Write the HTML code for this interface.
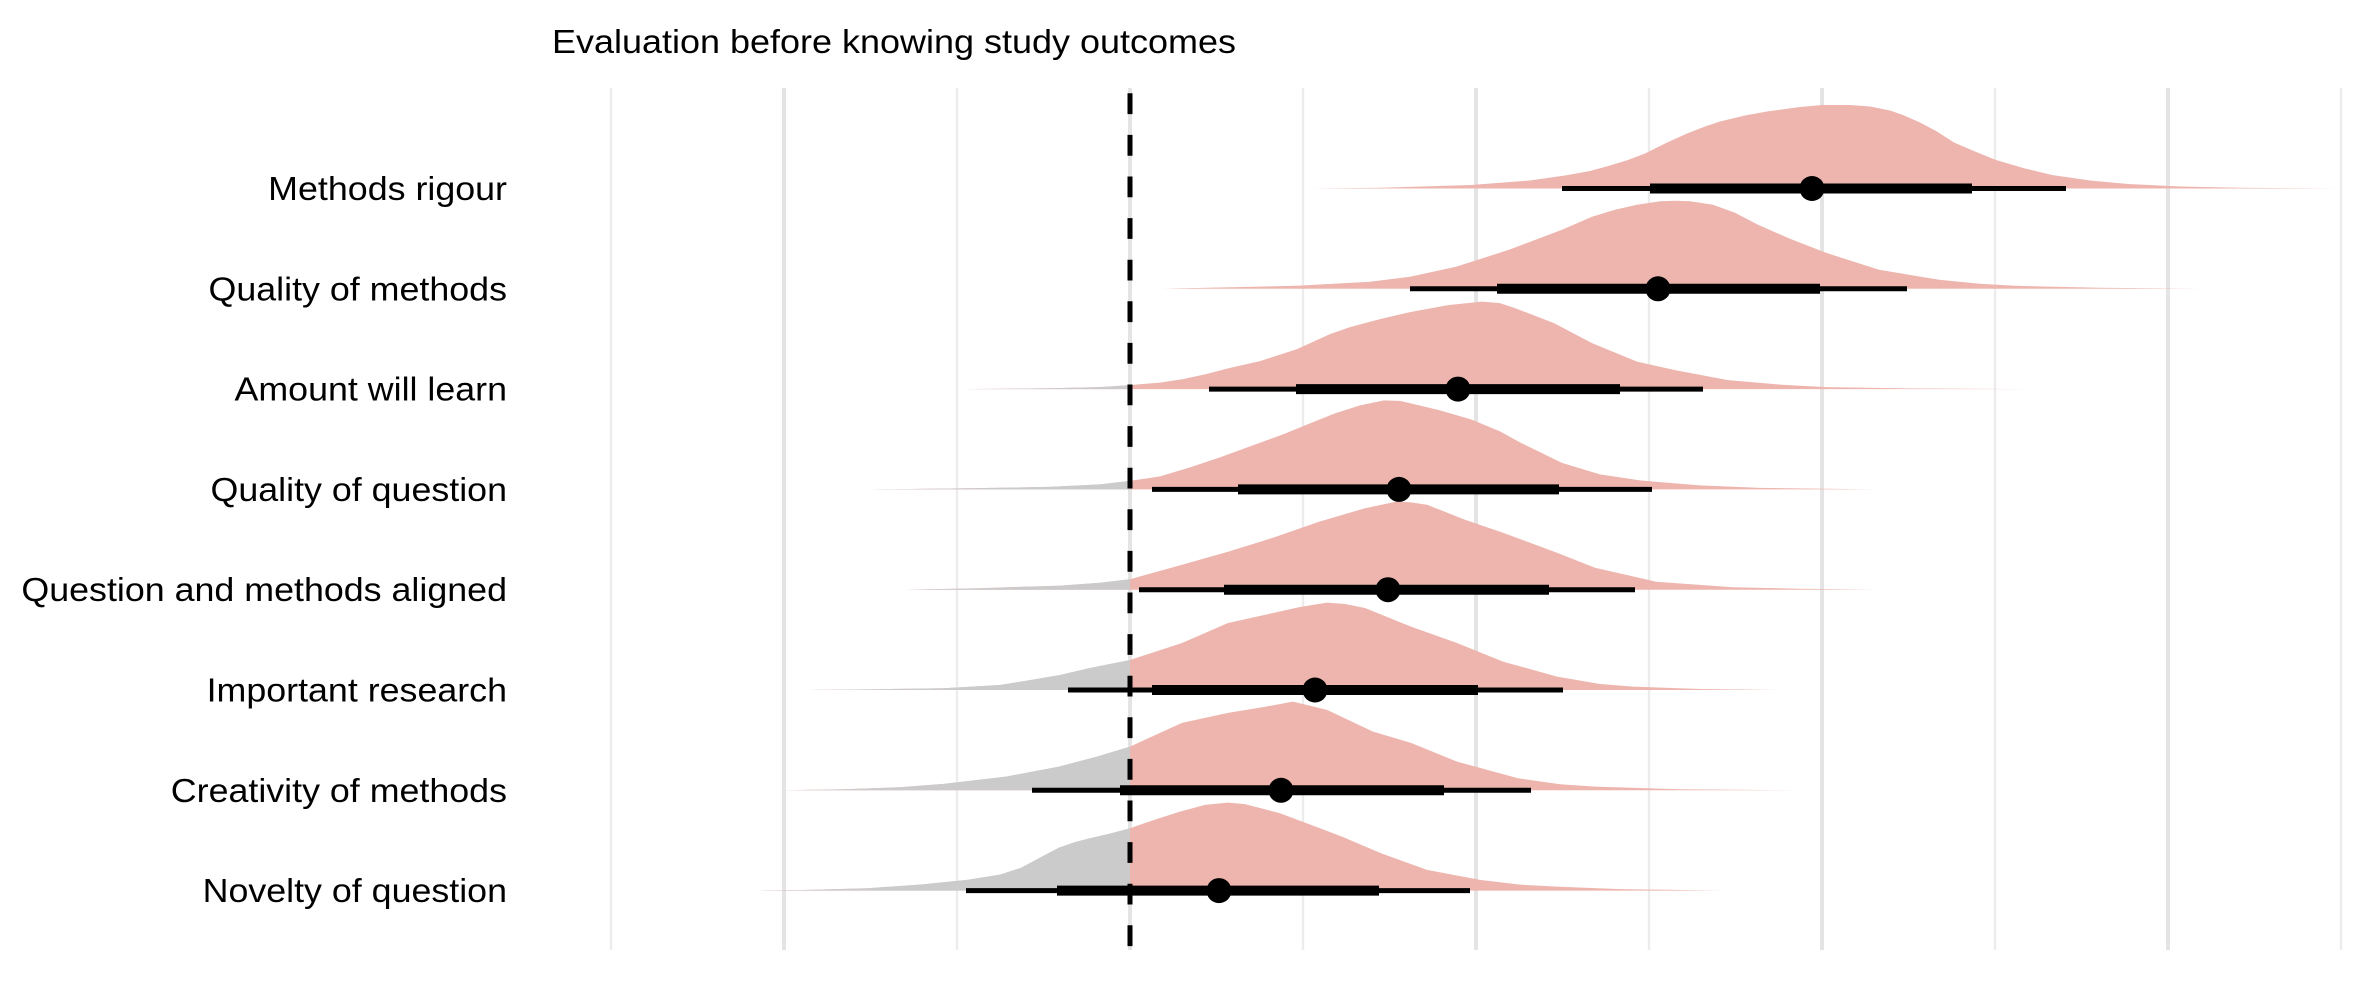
<!DOCTYPE html>
<html>
<head>
<meta charset="utf-8">
<style>
  html, body { margin: 0; padding: 0; background: #ffffff; }
  svg { display: block; }
  text { font-family: "Liberation Sans", Arial, Helvetica, sans-serif; fill: #000; }
</style>
</head>
<body>
<svg xmlns="http://www.w3.org/2000/svg" width="2368" height="1004" viewBox="0 0 2368 1004">
  <defs>
    <clipPath id="leftclip" clipPathUnits="userSpaceOnUse">
      <rect x="0" y="0" width="1130" height="1004"/>
    </clipPath>
  </defs>
  <rect x="0" y="0" width="2368" height="1004" fill="#ffffff"/>

  <!-- grid lines -->
  <g stroke="#ececec" stroke-width="2.3">
    <line x1="611" y1="88" x2="611" y2="950"/>
    <line x1="957" y1="88" x2="957" y2="950"/>
    <line x1="1303" y1="88" x2="1303" y2="950"/>
    <line x1="1649" y1="88" x2="1649" y2="950"/>
    <line x1="1995" y1="88" x2="1995" y2="950"/>
    <line x1="2341" y1="88" x2="2341" y2="950"/>
  </g>
  <g stroke="#e4e4e4" stroke-width="4">
    <line x1="784" y1="88" x2="784" y2="950"/>
    <line x1="1130" y1="88" x2="1130" y2="950"/>
    <line x1="1476" y1="88" x2="1476" y2="950"/>
    <line x1="1822" y1="88" x2="1822" y2="950"/>
    <line x1="2168" y1="88" x2="2168" y2="950"/>
  </g>

  <!-- densities: pink -->
  <g fill="#edb5ae">
    <g transform="translate(0,188.5) scale(1,-1)"><path d="M1312,0 L1380,0.7 L1471,3.5 L1530,8 L1565,13 L1590,17.5 L1610,23 L1628,28.5 L1645,35 L1665,45 L1687,55 L1705,62 L1720,67 L1745,73 L1767,77 L1800,81.5 L1822,83.5 L1850,83.5 L1870,82 L1890,78 L1903,73.5 L1920,66 L1937,57 L1954,46 L1975,37 L1996,28.5 L2025,20 L2052,13.5 L2090,8 L2128,4.5 L2180,2 L2241,0.8 L2339,0 Z"/></g>
    <g transform="translate(0,288.8) scale(1,-1)"><path d="M1163,0 L1184,0.5 L1297,3 L1370,7 L1410,12 L1456,22 L1509,39 L1562,59 L1592,72 L1615,79 L1637,84 L1660,87.5 L1675,88 L1690,87.5 L1713,84 L1735,76 L1758,64 L1790,50 L1826,36 L1879,19 L1939,9 L1980,5 L2015,3 L2100,1 L2200,0 Z"/></g>
    <g transform="translate(0,389.1) scale(1,-1)"><path d="M964,0 L1050,0.8 L1100,2 L1130,4 L1160,6.5 L1183,10 L1206,15 L1229,21 L1260,28 L1297,40 L1330,55 L1350,62 L1380,70 L1410,77 L1448,84 L1482,87.5 L1500,86 L1515,81 L1554,66 L1592,46 L1637,27.5 L1675,19 L1728,9 L1780,4.5 L1826,2 L1900,0.8 L2030,0 Z"/></g>
    <g transform="translate(0,489.4) scale(1,-1)"><path d="M870,0 L960,1 L1050,2.5 L1100,5 L1130,8.5 L1160,13 L1190,22 L1220,32 L1250,43 L1283,55 L1310,66 L1335,76 L1360,84 L1384,89 L1400,88.5 L1415,85 L1440,79 L1471,70 L1500,58 L1520,47 L1562,26.5 L1600,15 L1640,9 L1700,4 L1760,1.5 L1875,0 Z"/></g>
    <g transform="translate(0,589.7) scale(1,-1)"><path d="M906,0 L980,1.5 L1059,4 L1100,7 L1130,10.5 L1182,25 L1228,38 L1273,52 L1319,68 L1365,81.5 L1396,88 L1410,87.5 L1427,85 L1465,70 L1503,57 L1557,37 L1595,22 L1656,8 L1733,2.5 L1800,1 L1875,0 Z"/></g>
    <g transform="translate(0,690) scale(1,-1)"><path d="M808,0 L880,0.8 L944,1.8 L1000,5 L1021,8.4 L1060,15 L1090,22 L1130,30 L1182,47 L1228,67 L1273,77 L1300,83 L1327,87.4 L1345,86 L1365,82 L1411,63.4 L1457,47 L1503,28.4 L1557,13.4 L1600,6 L1633,3.4 L1700,1 L1778,0 Z"/></g>
    <g transform="translate(0,790.3) scale(1,-1)"><path d="M784,0 L845,1.1 L900,3 L944,6.4 L1006,13.7 L1059,23.7 L1097,33.7 L1130,43.7 L1182,67.4 L1228,77.4 L1266,83.7 L1293,88.7 L1327,80.4 L1373,58.7 L1411,47.4 L1457,28.7 L1518,12 L1560,6 L1595,3.7 L1680,1 L1802,0 Z"/></g>
    <g transform="translate(0,890.6) scale(1,-1)"><path d="M758,0 L800,0.5 L868,2.4 L920,6 L967,10.7 L1000,16 L1021,22.7 L1040,33 L1059,43 L1075,48.5 L1090,52.4 L1110,57 L1130,62.4 L1155,71 L1180,79 L1205,85.7 L1228,88 L1245,86.5 L1280,77.4 L1320,62.4 L1342,54 L1381,37.4 L1427,20.7 L1480,10.7 L1520,6 L1557,4 L1620,1.5 L1721,0 Z"/></g>
  </g>

  <!-- densities: grey part left of zero -->
  <g fill="#cbcbcb" clip-path="url(#leftclip)">
    <g transform="translate(0,389.1) scale(1,-1)"><path d="M964,0 L1050,0.8 L1100,2 L1130,4 L1183,9.5 L1183,0 Z"/></g>
    <g transform="translate(0,489.4) scale(1,-1)"><path d="M870,0 L960,1 L1050,2.5 L1100,5 L1130,8.5 L1160,13 L1160,0 Z"/></g>
    <g transform="translate(0,589.7) scale(1,-1)"><path d="M906,0 L980,1.5 L1059,4 L1100,7 L1130,10.5 L1182,25 L1182,0 Z"/></g>
    <g transform="translate(0,690) scale(1,-1)"><path d="M808,0 L880,0.8 L944,1.8 L1000,5 L1021,8.4 L1060,15 L1090,22 L1130,30 L1182,47 L1182,0 Z"/></g>
    <g transform="translate(0,790.3) scale(1,-1)"><path d="M784,0 L845,1.1 L900,3 L944,6.4 L1006,13.7 L1059,23.7 L1097,33.7 L1130,43.7 L1182,67.4 L1182,0 Z"/></g>
    <g transform="translate(0,890.6) scale(1,-1)"><path d="M758,0 L800,0.5 L868,2.4 L920,6 L967,10.7 L1000,16 L1021,22.7 L1040,33 L1059,43 L1075,48.5 L1090,52.4 L1110,57 L1130,62.4 L1155,71 L1155,0 Z"/></g>
  </g>

  <!-- intervals -->
  <g stroke="#000" stroke-linecap="butt">
    <g stroke-width="5">
      <line x1="1562" y1="188.5" x2="2066" y2="188.5"/>
      <line x1="1410" y1="288.8" x2="1907" y2="288.8"/>
      <line x1="1209" y1="389.1" x2="1703" y2="389.1"/>
      <line x1="1152" y1="489.4" x2="1652" y2="489.4"/>
      <line x1="1139" y1="589.7" x2="1635" y2="589.7"/>
      <line x1="1068" y1="690" x2="1563" y2="690"/>
      <line x1="1032" y1="790.3" x2="1531" y2="790.3"/>
      <line x1="966" y1="890.6" x2="1470" y2="890.6"/>
    </g>
    <g stroke-width="10">
      <line x1="1650" y1="188.5" x2="1972" y2="188.5"/>
      <line x1="1497" y1="288.8" x2="1820" y2="288.8"/>
      <line x1="1296" y1="389.1" x2="1620" y2="389.1"/>
      <line x1="1238" y1="489.4" x2="1559" y2="489.4"/>
      <line x1="1224" y1="589.7" x2="1549" y2="589.7"/>
      <line x1="1152" y1="690" x2="1478" y2="690"/>
      <line x1="1120" y1="790.3" x2="1444" y2="790.3"/>
      <line x1="1057" y1="890.6" x2="1379" y2="890.6"/>
    </g>
  </g>
  <g fill="#000">
    <circle cx="1812" cy="188.5" r="12.5"/>
    <circle cx="1658" cy="288.8" r="12.5"/>
    <circle cx="1458" cy="389.1" r="12.5"/>
    <circle cx="1399" cy="489.4" r="12.5"/>
    <circle cx="1388" cy="589.7" r="12.5"/>
    <circle cx="1315" cy="690" r="12.5"/>
    <circle cx="1281" cy="790.3" r="12.5"/>
    <circle cx="1219" cy="890.6" r="12.5"/>
  </g>

  <!-- dashed zero line -->
  <line x1="1130" y1="93.3" x2="1130" y2="950" stroke="#000" stroke-width="5" stroke-dasharray="20.8 20.8"/>

  <!-- title -->
  <text x="552" y="53" font-size="33" textLength="684" lengthAdjust="spacingAndGlyphs">Evaluation before knowing study outcomes</text>

  <!-- y labels -->
  <g font-size="33" text-anchor="end">
    <text x="507" y="200" textLength="238.8" lengthAdjust="spacingAndGlyphs">Methods rigour</text>
    <text x="507" y="300.3" textLength="298.5" lengthAdjust="spacingAndGlyphs">Quality of methods</text>
    <text x="507" y="400.6" textLength="272.5" lengthAdjust="spacingAndGlyphs">Amount will learn</text>
    <text x="507" y="500.9" textLength="296.5" lengthAdjust="spacingAndGlyphs">Quality of question</text>
    <text x="507" y="601.2" textLength="485.6" lengthAdjust="spacingAndGlyphs">Question and methods aligned</text>
    <text x="507" y="701.5" textLength="300.4" lengthAdjust="spacingAndGlyphs">Important research</text>
    <text x="507" y="801.8" textLength="336.2" lengthAdjust="spacingAndGlyphs">Creativity of methods</text>
    <text x="507" y="902.1" textLength="304.4" lengthAdjust="spacingAndGlyphs">Novelty of question</text>
  </g>
</svg>
</body>
</html>
